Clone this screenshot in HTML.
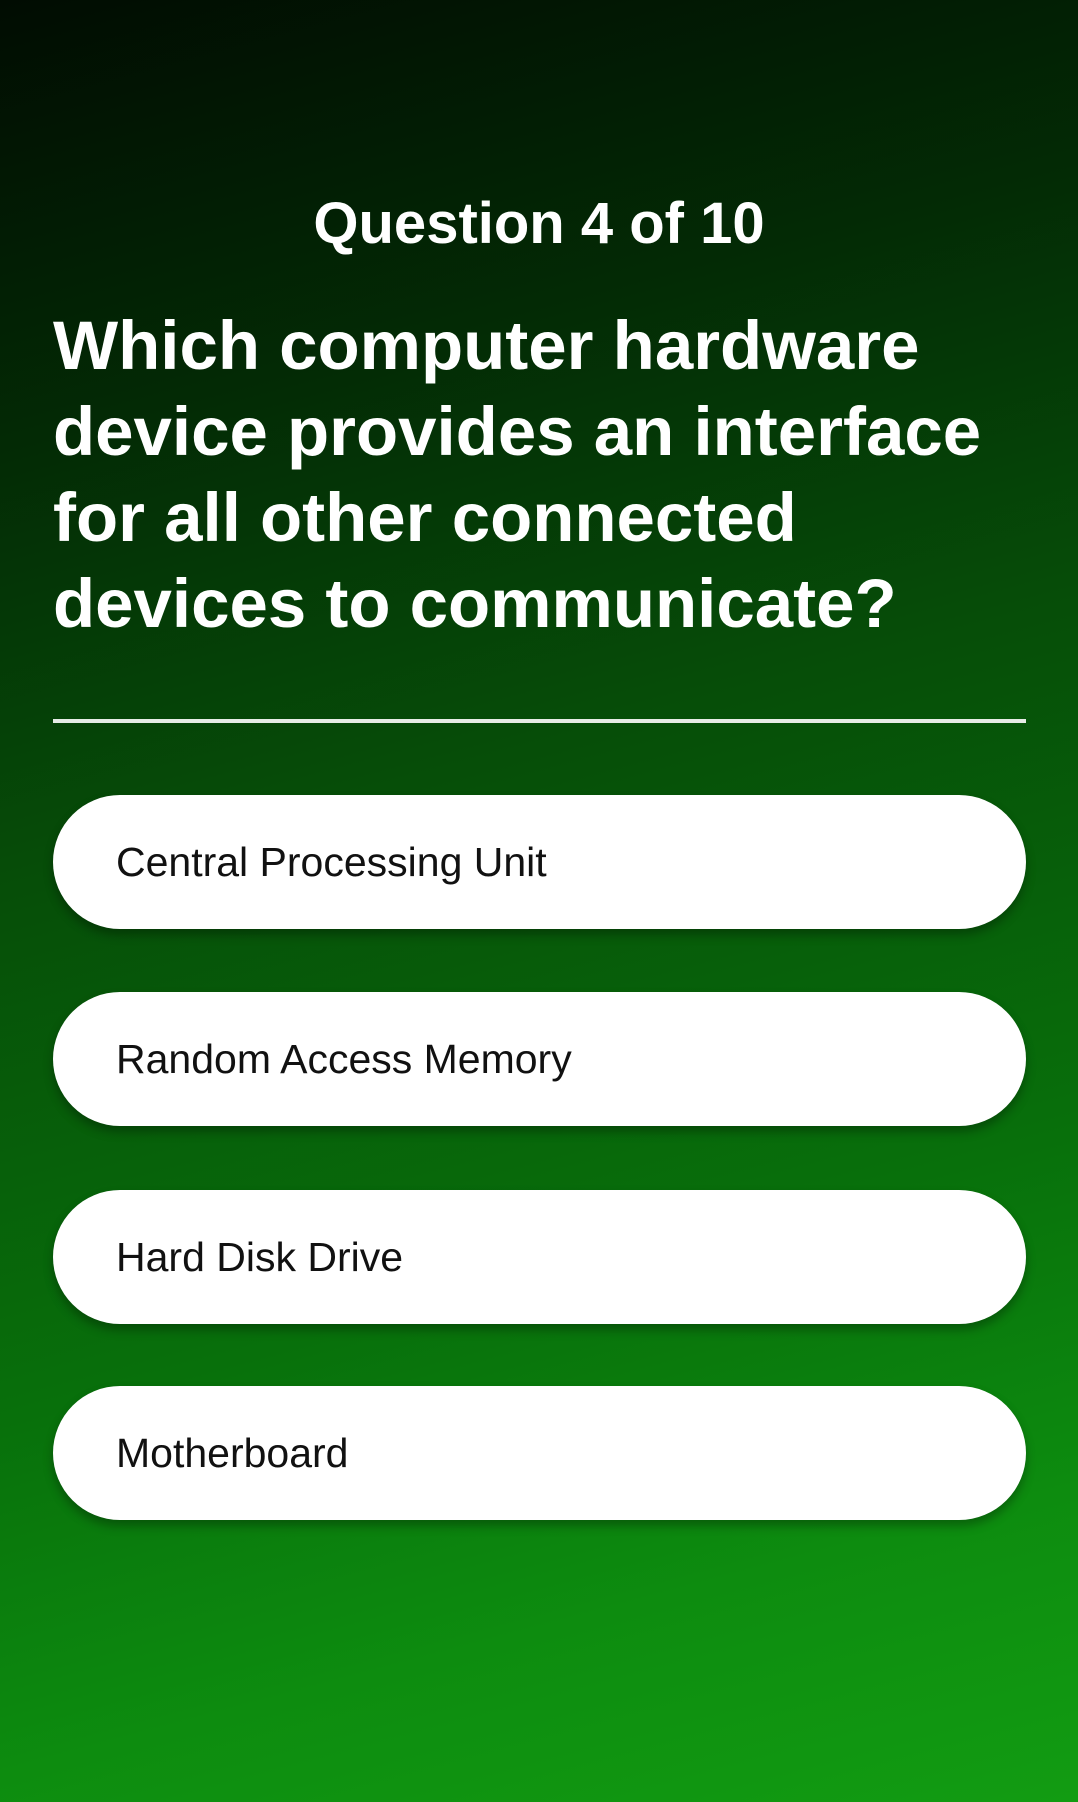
<!DOCTYPE html>
<html><head><meta charset="utf-8"><style>
html,body{margin:0;padding:0}
body{width:1078px;height:1802px;overflow:hidden;position:relative;font-family:"Liberation Sans",sans-serif;
background:linear-gradient(165deg,#010c02 0%,#032b05 22%,#064d08 42%,#08700b 68%,#0d8c0f 85%,#129c12 100%);}
.t{position:absolute;left:0;width:1078px;top:189px;text-align:center;color:#fff;font-weight:bold;font-size:58px;line-height:70px}
.q{position:absolute;left:53px;top:303px;color:#fff;font-weight:bold;font-size:69px;line-height:86px;white-space:nowrap}
.hr{position:absolute;left:53px;width:973px;top:719px;height:4px;background:#e6ece6}
.b{position:absolute;left:53px;width:973px;height:134px;border-radius:67px;background:#fff;box-shadow:0 6px 10px rgba(0,0,0,.3);}
.b span{position:absolute;left:63px;top:0;line-height:134px;font-size:41px;color:#111}
</style></head><body>
<div class="t">Question 4 of 10</div>
<div class="q">Which computer hardware<br>device provides an interface<br>for all other connected<br>devices to communicate?</div>
<div class="hr"></div>
<div class="b" style="top:795px"><span>Central Processing Unit</span></div>
<div class="b" style="top:992px"><span>Random Access Memory</span></div>
<div class="b" style="top:1190px"><span>Hard Disk Drive</span></div>
<div class="b" style="top:1386px"><span>Motherboard</span></div>
</body></html>
